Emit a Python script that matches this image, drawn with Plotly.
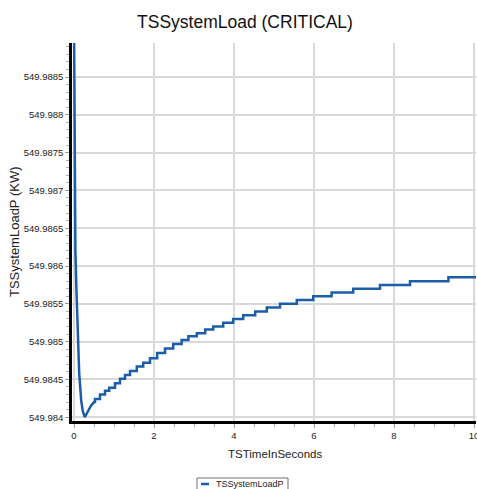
import plotly.graph_objects as go

# ---- data ----
decay_x = [0.0, 0.02, 0.035, 0.06, 0.10, 0.13, 0.18, 0.22, 0.27, 0.35, 0.42, 0.50]
decay_y = [549.98930, 549.98730, 549.98620, 549.98570, 549.98502, 549.98458,
           549.98422, 549.98408, 549.98400, 549.98408, 549.98415, 549.98420]

step_x = [0.525, 0.65, 0.775, 0.88, 1.025, 1.15, 1.275, 1.40, 1.57, 1.73, 1.90,
          2.08, 2.275, 2.48, 2.69, 2.86, 3.07, 3.28, 3.48, 3.73, 3.98, 4.23,
          4.53, 4.82, 5.15, 5.57, 5.98, 6.44, 6.98, 7.65, 8.40, 9.36]
step_y = [549.98424, 549.98430, 549.98435, 549.98439, 549.98445, 549.98451,
          549.98456, 549.98461, 549.98467, 549.98472, 549.98478, 549.98485,
          549.98491, 549.98497, 549.98502, 549.98507, 549.98511, 549.98516,
          549.98520, 549.98525, 549.98530, 549.98535, 549.98540, 549.98545,
          549.98550, 549.98555, 549.98560, 549.98565, 549.98570, 549.98575,
          549.98580, 549.98585]
end_x = 10.1

y_tick_vals = [549.984, 549.9845, 549.985, 549.9855, 549.986, 549.9865,
               549.987, 549.9875, 549.988, 549.9885]
y_tick_text = ["549.984", "549.9845", "549.985", "549.9855", "549.986",
               "549.9865", "549.987", "549.9875", "549.988", "549.9885"]
x_tick_vals = [0, 2, 4, 6, 8, 10]
x_tick_text = ["0", "2", "4", "6", "8", "10"]

series_name = "TSSystemLoadP"
title_text = "TSSystemLoad (CRITICAL)"
x_title = "TSTimeInSeconds"
y_title = "TSSystemLoadP (KW)"

# ---- build the stepped trace ----
xs = list(decay_x)
ys = list(decay_y)
prev = decay_y[-1]
for sx, sy in zip(step_x, step_y):
    xs += [sx, sx]
    ys += [prev, sy]
    prev = sy
xs.append(end_x)
ys.append(prev)

LINE = "#1c5dab"
FONT = "Liberation Sans, Arial, sans-serif"

fig = go.Figure()
fig.add_trace(go.Scatter(x=xs, y=ys, mode="lines", name=series_name,
                         line=dict(color=LINE, width=2.5), showlegend=False))

W, H = 477, 489
ml, mr, mt, mb = 72, 1, 43, 68
pw, ph = W - ml - mr, H - mt - mb

def px_x(p):
    return (p - ml) / pw

def px_y(p):
    return (H - mb - p) / ph

fig.update_layout(
    width=W, height=H,
    margin=dict(l=ml, r=mr, t=mt, b=mb, pad=0, autoexpand=False),
    paper_bgcolor="white", plot_bgcolor="white",
    font=dict(family=FONT, color="#222222", size=9),
    title=dict(text=title_text, x=245 / W, xanchor="center", xref="container",
               y=1 - 22 / H, yanchor="middle", yref="container",
               font=dict(family=FONT, size=17.5, color="#111111")),
    showlegend=False,
)

fig.update_xaxes(range=[-0.05, 10.05], tickvals=x_tick_vals, ticktext=x_tick_text,
                 showgrid=True, gridcolor="#d9d9d9", gridwidth=2,
                 showline=True, linecolor="#000000", linewidth=2.5,
                 ticks="outside", ticklen=4, tickcolor="#9a9a9a", tickwidth=1,
                 minor=dict(dtick=0.5, ticks="outside", ticklen=3, tickcolor="#b0b0b0", showgrid=False),
                 zeroline=False, ticklabeloverflow="allow", automargin=False,
                 tickfont=dict(size=9.5, color="#222222"))
fig.update_yaxes(range=[549.98395, 549.98895], tickvals=y_tick_vals, ticktext=y_tick_text,
                 showgrid=True, gridcolor="#d9d9d9", gridwidth=2,
                 showline=True, linecolor="#000000", linewidth=2.5,
                 ticks="outside", ticklen=4, tickcolor="#9a9a9a", tickwidth=1,
                 minor=dict(dtick=0.0001, tick0=549.984, ticks="outside", ticklen=3,
                            tickcolor="#b0b0b0", showgrid=False),
                 zeroline=False, automargin=False,
                 tickfont=dict(size=9.5, color="#222222"))

# axis titles
fig.add_annotation(text=x_title, xref="paper", yref="paper", x=px_x(275), y=px_y(454),
                   showarrow=False, font=dict(size=11.5, color="#222222"),
                   xanchor="center", yanchor="middle")
fig.add_annotation(text=y_title, xref="paper", yref="paper", x=px_x(14), y=px_y(232),
                   showarrow=False, textangle=-90, font=dict(size=13, color="#222222"),
                   xanchor="center", yanchor="middle")

# legend (custom box)
fig.add_shape(type="rect", xref="paper", yref="paper",
              x0=px_x(197), x1=px_x(288), y0=px_y(495), y1=px_y(478),
              line=dict(color="#6e6e6e", width=1), fillcolor="white")
fig.add_shape(type="line", xref="paper", yref="paper",
              x0=px_x(201), x1=px_x(209), y0=px_y(484), y1=px_y(484),
              line=dict(color=LINE, width=2.5))
fig.add_annotation(text=series_name, xref="paper", yref="paper", x=px_x(214), y=px_y(484),
                   showarrow=False, font=dict(size=9, color="#222222"),
                   xanchor="left", yanchor="middle")

fig.write_html("out.html")
